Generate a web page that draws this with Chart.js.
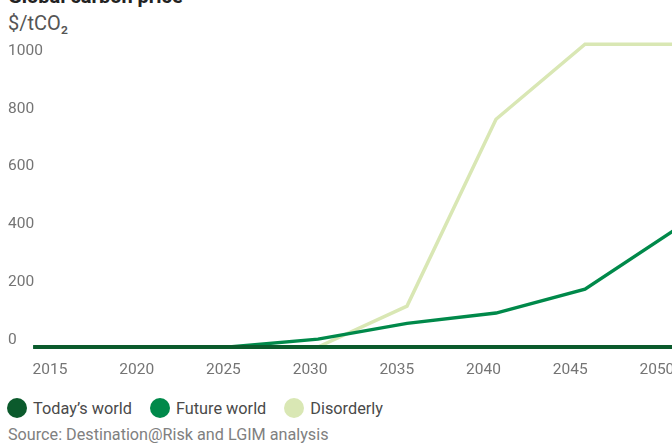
<!DOCTYPE html>
<html>
<head>
<meta charset="utf-8">
<script src="https://cdn.jsdelivr.net/npm/chart.js@4.4.1/dist/chart.umd.min.js"></script>
<style>
body{margin:0;width:672px;height:443px;overflow:hidden;position:relative;background:#fff;font-family:Roboto,sans-serif}
#titulo{position:absolute;left:8px;top:-16px;font-size:20px;font-weight:bold;color:#222;line-height:24px;white-space:nowrap}
#unidade{position:absolute;left:8px;top:11px;font-size:20px;color:#555;line-height:24px}
#caixa{position:absolute;left:0;top:0;width:720px;height:395px}
#legenda{position:absolute;left:7px;top:398px;height:20px;display:flex;align-items:center;font-size:16.3px;color:#4a4a4a;white-space:nowrap}
#legenda span.bola{width:20px;height:20px;border-radius:50%;display:inline-block;margin-right:6px}
#legenda span.item{display:flex;align-items:center;margin-right:18px}
#fonte{position:absolute;left:8px;top:425px;font-size:16.2px;color:#808080;line-height:20px;white-space:nowrap}
</style>
</head>
<body>
<div id="titulo">Global carbon price</div>
<div id="unidade">$/tCO₂</div>
<div id="caixa"><canvas id="grafico" width="720" height="395"></canvas></div>
<div id="legenda"></div>
<div id="fonte">Source: Destination@Risk and LGIM analysis</div>
<script>
var anos=[2014,2015,2020,2025,2030,2035,2040,2045,2050];
var mundoHoje=[0,0,0,0,0,0,0,0,0];
var mundoFuturo=[0,0,0,0,26,78,112,191,385];
var desordenado=[null,null,null,null,0,135,752,1000,1000];
var rotulosAno=[2015,2020,2025,2030,2035,2040,2045,2050];
var rotulosPreco=[0,200,400,600,800,1000];
var nomesSeries=["Today\u2019s world","Future world","Disorderly"];
var coresSeries=["#0b5a2c","#00894a","#d9e7b4"];

window.addEventListener("load", function (){
    var valores=[mundoHoje,mundoFuturo,desordenado];
    var espessuras=[4,3.5,3.5];
    var datasets=[];
    for (let i = 0; i < valores.length; i++) {
        datasets.push({
            label:nomesSeries[i],
            data:anos.map(function(a,j){return {x:a,y:valores[i][j]};}),
            borderColor:coresSeries[i],
            backgroundColor:coresSeries[i],
            borderWidth:espessuras[i],
            pointRadius:0,
            tension:0,
            fill:false,
            clip:false,
            xAxisID:"x",
            yAxisID:"y"
        });
    }

    var fonteTicks={family:"Roboto",size:15.5};
    new Chart(document.getElementById("grafico"),{
        type:"line",
        data:{datasets:datasets},
        options:{
            responsive:false,
            animation:false,
            layout:{padding:{top:29,bottom:1.4,left:0,right:0}},
            plugins:{legend:{display:false},tooltip:{enabled:false}},
            scales:{
                x:{type:"linear",display:false,min:2012.434,max:2052.584},
                xl:{
                    type:"linear",position:"bottom",min:2012.424,max:2053.639,
                    grid:{display:false,drawTicks:false},
                    border:{display:false},
                    afterBuildTicks:function(eixo){eixo.ticks=rotulosAno.map(function(v){return {value:v};});},
                    ticks:{padding:14,autoSkip:false,maxRotation:0,color:"#747474",font:fonteTicks,
                        callback:function(v){return String(v);}}
                },
                y:{type:"linear",display:false,min:0,max:1050},
                yl:{
                    type:"linear",position:"left",min:-24.2,max:1076,
                    grid:{display:false,drawTicks:false},
                    border:{display:false},
                    afterBuildTicks:function(eixo){eixo.ticks=rotulosPreco.map(function(v){return {value:v};});},
                    ticks:{mirror:true,padding:2.667,color:"#747474",font:fonteTicks,
                        callback:function(v){return String(v);}}
                }
            }
        }
    });

    var legenda=document.getElementById("legenda");
    for (let i = 0; i < nomesSeries.length; i++) {
        var item=document.createElement("span");
        item.className="item";
        item.innerHTML='<span class="bola" style="background:'+coresSeries[i]+'"></span>'+nomesSeries[i];
        legenda.appendChild(item);
    }
});
</script>
</body>
</html>
